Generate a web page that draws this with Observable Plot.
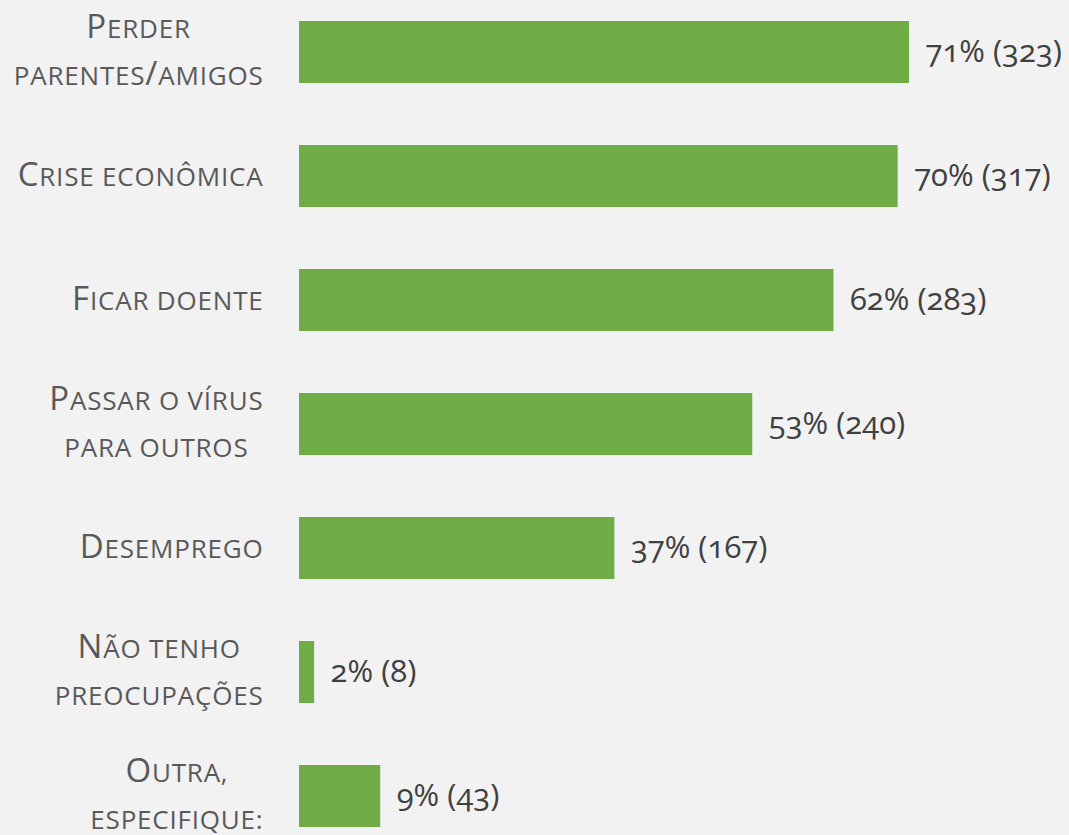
<!DOCTYPE html>
<html><head><meta charset="utf-8">
<script src="https://cdn.jsdelivr.net/npm/d3@7"></script>
<script src="https://cdn.jsdelivr.net/npm/@observablehq/plot@0.6"></script>
<style>
html,body{margin:0;padding:0;background:#f2f2f2;overflow:hidden;}
</style></head><body><div id="chart"></div>
<script>
const categories = ["Perder\nparentes/amigos", "Crise econômica", "Ficar doente", "Passar o vírus\npara outros", "Desemprego", "Não tenho\npreocupações", "Outra,\nespecifique:"];
const counts = [323, 317, 283, 240, 167, 8, 43];
const percents = [71, 70, 62, 53, 37, 2, 9];
const data = categories.map((c, i) => ({category: c, count: counts[i], pct: percents[i], label: `${percents[i]}% (${counts[i]})`}));

const BIG = 33, SMALL = 26;

const chart = Plot.plot({
  width: 1069, height: 835, margin: 0,
  style: {background: "#f2f2f2", overflow: "visible"},
  x: {domain: [0, 323], range: [299, 909], axis: null},
  y: {domain: categories, range: [-12, 859], paddingInner: 0.5, paddingOuter: 0.25, axis: null},
  marks: [
    Plot.barX(data, {x: "count", y: "category", fill: "#70ad47"}),
    Plot.text(data, {x: 0, y: "category", text: "category", textAnchor: "end", dx: -36, dy: -6, fontSize: BIG, fill: "#595959", lineHeight: 1.43, fontFamily: "Open Sans"}),
    Plot.text(data, {x: "count", y: "category", text: "label", textAnchor: "start", dx: 16, fontSize: 31, fill: "#404040", fontVariant: "oldstyle-nums", fontFamily: "Open Sans"})
  ]
});
document.getElementById("chart").appendChild(chart);

const NS = "http://www.w3.org/2000/svg";
function smallCaps(el) {
  const str = el.textContent;
  el.textContent = "";
  el.setAttribute("letter-spacing", "0.8");
  let runs = [];
  for (const ch of str) {
    const big = (ch !== ch.toLowerCase()) || ch === "/";
    if (runs.length && runs[runs.length - 1].big === big) runs[runs.length - 1].s += ch;
    else runs.push({big, s: ch});
  }
  for (const r of runs) {
    const ts = document.createElementNS(NS, "tspan");
    ts.setAttribute("font-size", r.big ? BIG : SMALL);
    ts.textContent = r.s.toUpperCase();
    el.appendChild(ts);
  }
}

const groups = chart.querySelectorAll('g[aria-label="text"]');
if (groups.length) {
  groups[0].querySelectorAll("text").forEach(t => {
    const lines = Array.from(t.children).filter(c => c.tagName === "tspan");
    if (lines.length === 0) {
      smallCaps(t);
    } else {
      lines.forEach(smallCaps);
      if (lines.length > 1) {
        let maxW = 0;
        lines.forEach(s => { maxW = Math.max(maxW, s.getComputedTextLength()); });
        t.setAttribute("text-anchor", "middle");
        lines.forEach(s => s.setAttribute("x", -maxW / 2));
      }
    }
  });
}
</script></body></html>
